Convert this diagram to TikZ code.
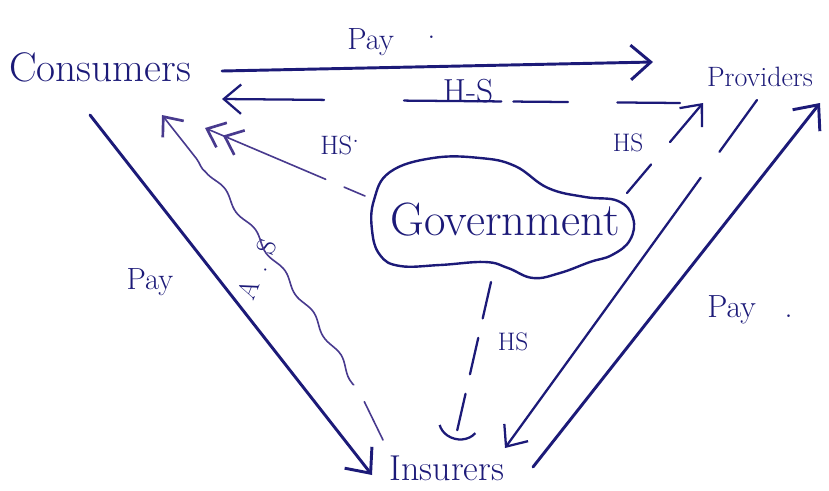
\documentclass[tikz,border=0pt]{standalone}
\usetikzlibrary{arrows.meta,decorations.pathmorphing}
\definecolor{ink}{RGB}{28,26,120}
\definecolor{paleink}{RGB}{72,58,142}
\begin{document}
\begin{tikzpicture}[x=0.75pt,y=-0.75pt,
  lbl/.style={text=ink,inner sep=0pt},
  bigtip/.style={-{Straight Barb[length=15pt,width=26pt]}},
  flow/.style={draw=ink,line width=2.2pt,line cap=round,bigtip},
  medflow/.style={draw=ink,line width=1.7pt,line cap=round,-{Straight Barb[length=13pt,width=22pt]}},
  thinflow/.style={draw=paleink,line width=1.2pt,line cap=round,-{Straight Barb[length=12pt,width=20pt,line width=2pt]}}]
\useasboundingbox (0,0) rectangle (829,490);
\fill[white] (0,0) rectangle (829,490);

% parties
\node[lbl,font=\fontsize{31}{32}\selectfont] (cons) at (100,67) {Consumers};
\node[lbl,font=\fontsize{21}{22}\selectfont] (prov) at (760,77) {Providers};
\node[lbl,font=\fontsize{27}{28}\selectfont] (ins) at (447,468) {Insurers};
\node[lbl,font=\fontsize{35}{36}\selectfont] (gov) at (505,220) {Government};

% cloud round the government
\begin{scope}[shift={(gov.center)}]
\draw[ink,line width=1.8pt] plot[smooth cycle,tension=0.7] coordinates {
  (-115,-48) (-72,-62) (-25,-62) (10,-54) (43,-32) (80,-23) (113,-19)
  (128,-2) (125,20) (107,35) (85,42) (55,53) (28,58) (3,48) (-20,42)
  (-65,45) (-105,46) (-125,35) (-133,10) (-131,-20)};
\end{scope}

% labels
\node[lbl,anchor=west,font=\fontsize{23}{24}\selectfont] (payA) at (347,42) {Pay\hspace{1.1em}\raisebox{0.35em}{.}};
\node[lbl,font=\fontsize{25}{26}\selectfont] (hsA) at (468,91) {H-S};
\node[lbl,anchor=west,font=\fontsize{20}{21}\selectfont] (hsB) at (320,145) {HS\raisebox{0.45em}{.}};
\node[lbl,font=\fontsize{19}{20}\selectfont] (hsC) at (628,143) {HS};
\node[lbl,font=\fontsize{19}{20}\selectfont] (hsD) at (513,342) {HS};
\node[lbl,font=\fontsize{23}{24}\selectfont] (payB) at (150,282) {Pay};
\node[lbl,rotate=68,font=\fontsize{20}{21}\selectfont] (as) at (257,269) {A\hspace{0.45em}.\hspace{0.45em}S};
\node[lbl,anchor=west,font=\fontsize{24}{25}\selectfont] (payC) at (707,310) {Pay\hspace{0.9em}.};

% payments
\draw[flow] ([shift={(122,4)}]cons.center) -- ([shift={(-107,-15)}]prov.center);
\draw[flow] ([shift={(-10,48)}]cons.center) -- ([shift={(-75,7)}]ins.center);
\draw[flow] ([shift={(86,-1)}]ins.center) -- ([shift={(60,26)}]prov.center);

% services back to consumers
\draw[medflow,dash pattern=on 47pt off 37pt on 41pt off 9pt on 73pt off 60pt on 80pt]
  ([shift={(-80,26)}]prov.center) -- ([shift={(122,32)}]cons.center);
\draw[thinflow,dash pattern=on 17pt off 15pt on 300pt,
  -{Straight Barb[length=12pt,width=20pt,line width=2pt] Straight Barb[length=12pt,width=20pt,line width=2pt]}]
  ([shift={(-140,-24)}]gov.center) -- ([shift={(105,61)}]cons.center);
\draw[thinflow,decorate,decoration={snake,amplitude=2pt,segment length=38pt,pre length=40pt,post length=30pt},
  dash pattern=on 32pt off 15pt on 400pt]
  ([shift={(-64,-28)}]ins.center) .. controls +(-30,-80) and +(60,75) .. ([shift={(62,48)}]cons.center);

% government and provider flows
\draw[draw=ink,line width=1.7pt,line cap=round,dash pattern=on 28pt off 15pt,
  -{Arc Barb[arc=130,length=14pt,width=32pt]}]
  ([shift={(-14,62)}]gov.center) -- ([shift={(8,-28)}]ins.center);
\draw[medflow,dash pattern=on 48pt off 24pt on 600pt]
  ([shift={(-3,23)}]prov.center) -- ([shift={(58,-20)}]ins.center);
\draw[medflow,dash pattern=on 28pt off 22pt on 100pt]
  ([shift={(122,-27)}]gov.center) -- ([shift={(-57,26)}]prov.center);
\end{tikzpicture}
\end{document}
